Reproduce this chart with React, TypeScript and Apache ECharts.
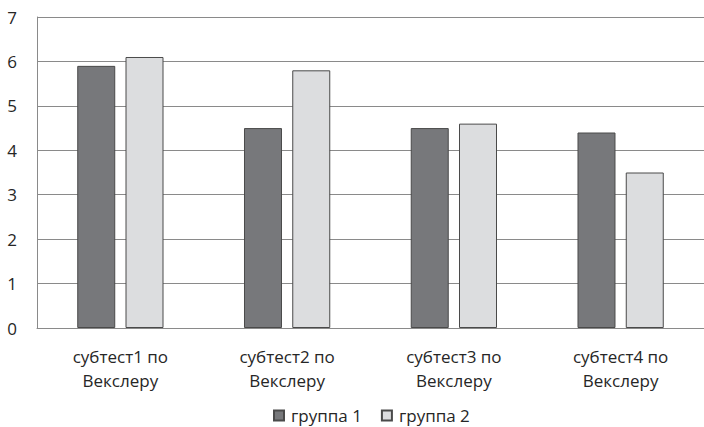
import React, { useEffect, useRef } from "react";
import * as echarts from "echarts";

const categories = [
  "субтест1 по\nВекслеру",
  "субтест2 по\nВекслеру",
  "субтест3 по\nВекслеру",
  "субтест4 по\nВекслеру",
];
const group1 = [5.9, 4.5, 4.5, 4.4];
const group2 = [6.1, 5.8, 4.6, 3.5];
const seriesNames = ["группа 1", "группа 2"];
const yTicks = { min: 0, max: 7, interval: 1 };

const FONT = "'Open Sans', 'Noto Sans', sans-serif";
const TEXT = "#262626";

export default function App() {
  const ref = useRef<HTMLDivElement>(null);

  useEffect(() => {
    if (!ref.current) return;
    const chart = echarts.init(ref.current, undefined, { renderer: "svg" });
    chart.setOption({
      animation: false,
      backgroundColor: "#ffffff",
      textStyle: { fontFamily: FONT, color: TEXT },
      grid: { left: 37, right: -6, top: 17, bottom: 99, containLabel: false },
      legend: {
        bottom: 3,
        padding: 0,
        left: 273,
        itemWidth: 10,
        itemHeight: 10,
        itemGap: 19,
        icon: "rect",
        textStyle: { fontFamily: FONT, fontSize: 17, color: TEXT, padding: [0, 0, 0, 2] },
        data: seriesNames,
      },
      xAxis: {
        type: "category",
        data: categories,
        axisLine: { show: true, lineStyle: { color: "#8a8a8a", width: 1 } },
        axisTick: { show: false },
        axisLabel: {
          fontFamily: FONT,
          fontSize: 17,
          color: TEXT,
          lineHeight: 24,
          margin: 16,
        },
      },
      yAxis: {
        type: "value",
        min: yTicks.min,
        max: yTicks.max,
        interval: yTicks.interval,
        axisLine: { show: true, lineStyle: { color: "#8a8a8a", width: 1 } },
        axisTick: { show: false },
        axisLabel: { fontFamily: FONT, fontSize: 17, color: TEXT, margin: 20 },
        splitLine: { show: true, lineStyle: { color: "#8a8a8a", width: 1 } },
      },
      series: [
        {
          name: seriesNames[0],
          type: "bar",
          data: group1,
          barWidth: 38,
          barGap: "27%",
          itemStyle: { color: "#77787b", borderColor: "#4a4a4a", borderWidth: 1 },
        },
        {
          name: seriesNames[1],
          type: "bar",
          data: group2,
          barWidth: 38,
          barGap: "27%",
          itemStyle: { color: "#dcdddf", borderColor: "#4a4a4a", borderWidth: 1 },
        },
      ],
    });
    return () => chart.dispose();
  }, []);

  return <div ref={ref} style={{ width: 704, height: 427, position: "absolute", left: 0, top: 0 }} />;
}
